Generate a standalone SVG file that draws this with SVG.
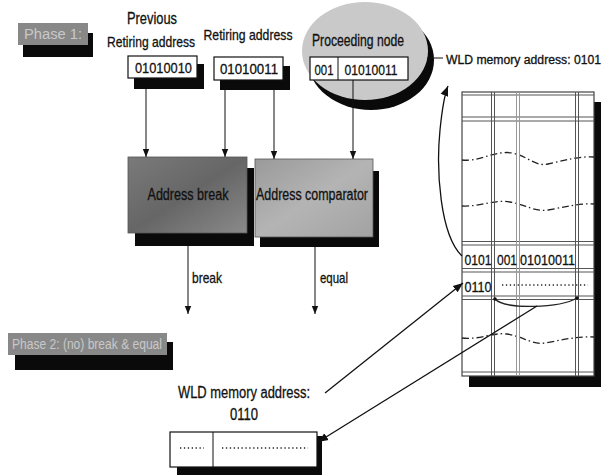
<svg xmlns="http://www.w3.org/2000/svg" width="608" height="475" viewBox="0 0 608 475">
<style>
.t{font-family:"Liberation Sans Narrow","Arial Narrow","Liberation Sans",Arial,sans-serif;fill:#111;stroke:#111;stroke-width:0.3;}
.lbl{font-size:16px;}
.lbl2{font-size:15px;}
.num{font-size:15px;}
.sm{font-size:12px;}
.ph{font-family:"Liberation Sans Narrow","Liberation Sans",Arial,sans-serif;font-size:14px;fill:#c8c8c8;}
.shadow{fill:#0a0a0a;}
.wbox{fill:#fff;stroke:#111;stroke-width:1.2;}
.arr{fill:none;stroke:#111;stroke-width:1;marker-end:url(#ah);}
.arr2{fill:none;stroke:#111;stroke-width:1.3;marker-end:url(#ah2);}
.gd{stroke:#555;stroke-width:1;fill:none;}
.gl{stroke:#999;stroke-width:1;fill:none;}
.wave{fill:none;stroke:#222;stroke-width:1.3;stroke-dasharray:7,3,1.5,3;}
.dots{stroke:#222;stroke-width:1.5;stroke-dasharray:1.3,2.6;fill:none;}
</style>
<defs>
<marker id="ah" viewBox="0 0 10 10" refX="10" refY="5" markerWidth="8" markerHeight="8" markerUnits="userSpaceOnUse" orient="auto">
<path d="M0,1 L10,5 L0,9 z" fill="#111"/>
</marker>
<marker id="ah2" viewBox="0 0 10 10" refX="10" refY="5" markerWidth="10" markerHeight="10" markerUnits="userSpaceOnUse" orient="auto">
<path d="M0,1 L10,5 L0,9 z" fill="#111"/>
</marker>
<linearGradient id="gBreak" x1="0" y1="0" x2="1" y2="1">
<stop offset="0" stop-color="#7a7a7a"/>
<stop offset="0.5" stop-color="#666"/>
<stop offset="1" stop-color="#8a8a8a"/>
</linearGradient>
<linearGradient id="gComp" x1="0" y1="0" x2="1" y2="1">
<stop offset="0" stop-color="#9a9a9a"/>
<stop offset="0.5" stop-color="#b4b4b4"/>
<stop offset="1" stop-color="#a2a2a2"/>
</linearGradient>
</defs>

<g id="phase1">
<rect class="shadow" x="23" y="33" width="70" height="24"/>
<rect x="18" y="23" width="70" height="22" fill="#888"/>
<text class="ph" x="53" y="39" text-anchor="middle" textLength="58" lengthAdjust="spacingAndGlyphs">Phase 1:</text>
</g>

<g id="prev-label">
<text class="t lbl" x="152" y="24" text-anchor="middle" textLength="50" lengthAdjust="spacingAndGlyphs">Previous</text>
<text class="t lbl2" x="151" y="47" text-anchor="middle" textLength="88" lengthAdjust="spacingAndGlyphs">Retiring address</text>
</g>
<g id="prev-addr">
<rect class="shadow" x="134" y="64" width="70" height="25"/>
<rect class="wbox" x="128" y="56" width="69" height="22"/>
<text class="t num" x="163.5" y="73" text-anchor="middle" textLength="57" lengthAdjust="spacingAndGlyphs">01010010</text>
</g>

<g id="ret-label">
<text class="t lbl2" x="248" y="40" text-anchor="middle" textLength="89" lengthAdjust="spacingAndGlyphs">Retiring address</text>
</g>
<g id="ret-addr">
<rect class="shadow" x="220" y="66" width="70" height="24"/>
<rect class="wbox" x="214" y="57" width="69" height="23"/>
<text class="t num" x="249" y="74" text-anchor="middle" textLength="58" lengthAdjust="spacingAndGlyphs">01010011</text>
</g>

<g id="proceeding-node">
<ellipse class="shadow" cx="371" cy="60" rx="63" ry="50"/>
<ellipse cx="365" cy="51" rx="63" ry="49" fill="#c9c9c9"/>
<text class="t lbl" x="358" y="46" text-anchor="middle" textLength="92" lengthAdjust="spacingAndGlyphs">Proceeding node</text>
<rect class="wbox" x="310" y="57" width="98" height="23"/>
<line x1="338" y1="57" x2="338" y2="80" stroke="#111" stroke-width="1"/>
<text class="t num" x="324" y="75" text-anchor="middle" textLength="19" lengthAdjust="spacingAndGlyphs">001</text>
<text class="t num" x="371" y="75" text-anchor="middle" textLength="53" lengthAdjust="spacingAndGlyphs">01010011</text>
</g>

<g id="wld-0101">
<text class="t sm" x="446" y="64" textLength="155" lengthAdjust="spacingAndGlyphs">WLD memory  address: 0101</text>
</g>

<g id="address-break">
<rect class="shadow" x="135" y="168" width="119" height="78"/>
<rect x="128" y="157" width="119" height="76" fill="url(#gBreak)" stroke="#555" stroke-width="0.8"/>
<text class="t lbl" x="188" y="200" text-anchor="middle" textLength="81" lengthAdjust="spacingAndGlyphs">Address break</text>
</g>

<g id="address-comparator">
<rect class="shadow" x="260" y="171" width="119" height="76"/>
<rect x="255" y="159" width="118" height="78" fill="url(#gComp)" stroke="#555" stroke-width="0.8"/>
<text class="t lbl" x="312" y="200" text-anchor="middle" textLength="112" lengthAdjust="spacingAndGlyphs">Address comparator</text>
</g>

<g id="break-label">
<text class="t num" x="192" y="283" textLength="30" lengthAdjust="spacingAndGlyphs">break</text>
</g>
<g id="equal-label">
<text class="t num" x="320" y="283" textLength="28" lengthAdjust="spacingAndGlyphs">equal</text>
</g>

<g id="phase2">
<rect class="shadow" x="15" y="342" width="158" height="28"/>
<rect x="8" y="333" width="159" height="22" fill="#888"/>
<text class="ph" x="87" y="349" text-anchor="middle" textLength="150" lengthAdjust="spacingAndGlyphs">Phase 2: (no) break &amp; equal</text>
</g>

<g id="wld-memory">
<rect class="shadow" x="469" y="102" width="132" height="285"/>
<rect x="462" y="92" width="132" height="284" fill="#fff" stroke="#444" stroke-width="1.2"/>
<path class="wave" d="M462,160 C480,162 495,150 512,153 C528,156 535,167 548,164 C565,160 580,156 594,157"/>
<path class="wave" d="M462,206 C480,207 495,199 510,202 C526,205 535,212 548,210 C565,207 580,203 594,204"/>
<path class="wave" d="M462,338 C480,340 494,332 507,334 C524,337 533,345 545,343 C562,340 578,336 594,337"/>
<line class="gd" x1="462" y1="95" x2="594" y2="95"/>
<line class="gd" x1="462" y1="117" x2="594" y2="117"/>
<line class="gd" x1="462" y1="121" x2="594" y2="121"/>
<line class="gd" x1="462" y1="241.5" x2="594" y2="241.5"/>
<line class="gd" x1="462" y1="245" x2="594" y2="245"/>
<line class="gd" x1="462" y1="268.5" x2="594" y2="268.5"/>
<line class="gd" x1="462" y1="272" x2="594" y2="272"/>
<line class="gd" x1="462" y1="296" x2="594" y2="296"/>
<line class="gd" x1="462" y1="299.5" x2="594" y2="299.5"/>
<line class="gd" x1="462" y1="372" x2="594" y2="372"/>
<line class="gd" x1="491.5" y1="92" x2="491.5" y2="376"/>
<line class="gd" x1="494.5" y1="92" x2="494.5" y2="376"/>
<line class="gl" x1="516.5" y1="92" x2="516.5" y2="376"/>
<line class="gl" x1="519.5" y1="92" x2="519.5" y2="376"/>
<line class="gd" x1="575.5" y1="92" x2="575.5" y2="376"/>
<line class="gd" x1="578.5" y1="92" x2="578.5" y2="376"/>
<text class="t num" x="478" y="265" text-anchor="middle" textLength="27" lengthAdjust="spacingAndGlyphs">0101</text>
<text class="t num" x="507" y="265" text-anchor="middle" textLength="20" lengthAdjust="spacingAndGlyphs">001</text>
<text class="t num" x="547.5" y="265" text-anchor="middle" textLength="55" lengthAdjust="spacingAndGlyphs">01010011</text>
<text class="t num" x="478" y="292" text-anchor="middle" textLength="27" lengthAdjust="spacingAndGlyphs">0110</text>
<line class="dots" x1="502" y1="285" x2="588" y2="285"/>
<path d="M495,299 C505,310 560,308 577,298" fill="none" stroke="#222" stroke-width="1.2"/>
<circle cx="495" cy="299" r="1.8" fill="#111"/>
<circle cx="577" cy="298" r="1.8" fill="#111"/>
</g>

<g id="wld-0110-label">
<text class="t lbl" x="178" y="398" textLength="132" lengthAdjust="spacingAndGlyphs">WLD memory  address:</text>
<text class="t lbl" x="244" y="420" text-anchor="middle" textLength="28" lengthAdjust="spacingAndGlyphs">0110</text>
</g>

<g id="new-entry">
<rect class="shadow" x="177" y="436" width="145" height="42"/>
<rect class="wbox" x="170" y="432" width="147" height="35"/>
<line x1="213" y1="432" x2="213" y2="467" stroke="#111" stroke-width="1"/>
<line class="dots" x1="180" y1="448" x2="204" y2="448"/>
<line class="dots" x1="222" y1="448" x2="308" y2="448"/>
</g>

<g id="connectors">
<line class="arr" x1="146" y1="89" x2="146" y2="157"/>
<line class="arr" x1="225" y1="90" x2="225" y2="157"/>
<line class="arr" x1="274" y1="90" x2="274" y2="159"/>
<line class="arr" x1="353" y1="80" x2="353" y2="159"/>
<line class="arr" x1="188" y1="246" x2="188" y2="314"/>
<line class="arr" x1="315" y1="247" x2="315" y2="314"/>
<line x1="427" y1="58" x2="443" y2="58" stroke="#111" stroke-width="1"/>
<path class="arr2" d="M462,256 C440,235 436,170 440,130 C442,110 444,96 448,86"/>
<line class="arr2" x1="325" y1="393" x2="463" y2="283"/>
<line class="arr2" x1="537" y1="306" x2="318" y2="442"/>
</g>
</svg>
